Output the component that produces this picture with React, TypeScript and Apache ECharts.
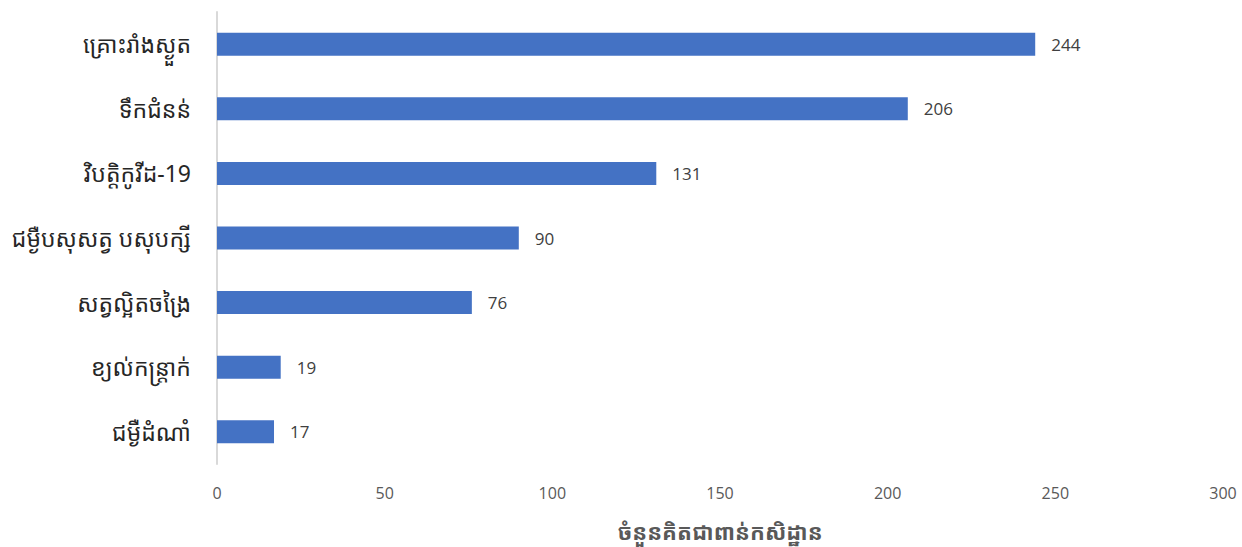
import React, { useEffect, useRef } from "react";
import * as echarts from "echarts";

const categories = [
  "គ្រោះរាំងស្ងួត",
  "ទឹកជំនន់",
  "វិបត្តិកូវីដ-19",
  "ជម្ងឺបសុសត្វ បសុបក្សី",
  "សត្វល្អិតចង្រៃ",
  "ខ្យល់កន្ត្រាក់",
  "ជម្ងឺដំណាំ",
];
const values = [244, 206, 131, 90, 76, 19, 17];
const axisTitle = "ចំនួនគិតជាពាន់កសិដ្ឋាន";

const FONT = '"Noto Sans Khmer", "Khmer OS", "Noto Sans", "DejaVu Sans", sans-serif';

export default function App() {
  const ref = useRef<HTMLDivElement>(null);
  useEffect(() => {
    if (!ref.current) return;
    const chart = echarts.init(ref.current, null, { renderer: "svg" });
    chart.setOption({
      animation: false,
      grid: { left: 217, right: 19, top: 12, bottom: 83, containLabel: false, outerBoundsMode: "none" },
      xAxis: {
        type: "value",
        min: 0,
        max: 300,
        interval: 50,
        splitLine: { show: false },
        axisLine: { show: false },
        axisTick: { show: false },
        axisLabel: { color: "#595959", fontSize: 16, margin: 21, fontFamily: '"Liberation Sans Narrow", "Open Sans", sans-serif' },
        name: axisTitle,
        nameLocation: "middle",
        nameGap: 56,
        nameTextStyle: { color: "#595959", fontSize: 22, fontWeight: "bold", fontFamily: FONT },
      },
      yAxis: {
        type: "category",
        data: categories,
        inverse: true,
        axisLine: { show: true, lineStyle: { color: "#d9d9d9", width: 2 } },
        axisTick: { show: false },
        axisLabel: { color: "#262626", fontSize: 23, margin: 26, fontFamily: FONT },
      },
      series: [
        {
          type: "bar",
          data: values,
          barWidth: 23,
          itemStyle: { color: "#4472C4" },
          label: {
            show: true,
            position: "right",
            distance: 16,
            color: "#404040",
            fontSize: 17,
            fontFamily: '"Open Sans", "Noto Sans", sans-serif',
          },
        },
      ],
    });
    return () => chart.dispose();
  }, []);
  return <div ref={ref} style={{ width: 1242, height: 547, position: "absolute", left: 0, top: 0 }} />;
}
